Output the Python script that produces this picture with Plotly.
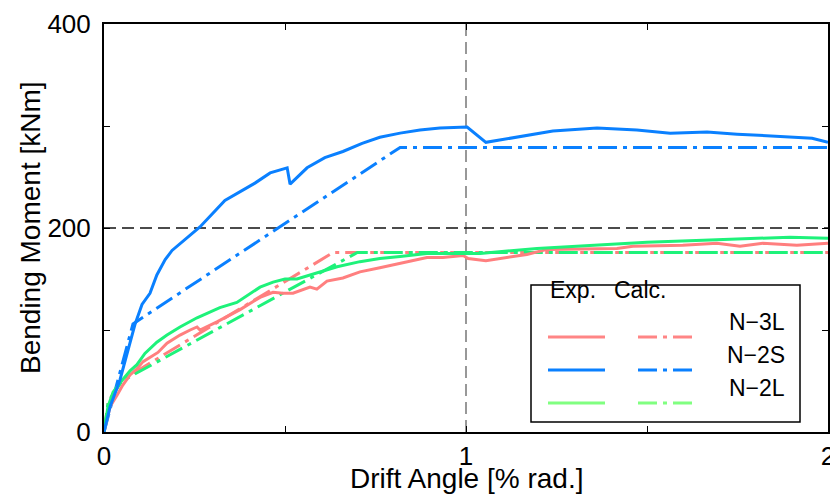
import plotly.graph_objects as go

# Experimental curves (drift angle [% rad.], moment [kNm])
n3l_exp_x = [0, 0.017, 0.036, 0.052, 0.072, 0.091, 0.108, 0.127, 0.149, 0.174, 0.210, 0.238, 0.257, 0.265,
             0.312, 0.376, 0.431, 0.467, 0.494, 0.522, 0.569, 0.588, 0.616, 0.660, 0.707, 0.762, 0.826,
             0.892, 0.936, 0.992, 1.006, 1.055, 1.168, 1.224, 1.417, 1.461, 1.599, 1.693, 1.757, 1.820,
             1.914, 2.0]
n3l_exp_y = [0, 25, 36, 46, 56, 62, 69, 73, 78, 87, 95, 100, 103, 100,
             108, 120, 132, 137, 136, 136, 142, 140, 148, 151, 157, 161, 166,
             171, 171, 173, 170, 168, 174, 179, 180, 182, 183, 185, 182, 185,
             183, 185]

n2s_exp_x = [0, 0.017, 0.044, 0.064, 0.077, 0.086, 0.105, 0.127, 0.146, 0.169, 0.188, 0.265, 0.334,
             0.384, 0.417, 0.459, 0.506, 0.514, 0.561, 0.610, 0.660, 0.713, 0.762, 0.818, 0.873,
             0.928, 1.003, 1.055, 1.141, 1.240, 1.362, 1.472, 1.564, 1.666, 1.749, 1.859, 1.956, 2.0]
n2s_exp_y = [0, 25, 51, 77, 93, 106, 125, 136, 154, 169, 178, 201, 227,
             237, 244, 254, 259, 243, 259, 269, 275, 283, 289, 293, 296,
             298, 299, 284, 289, 295, 298, 296, 293, 294, 292, 290, 288, 284]

n2l_exp_x = [0, 0.011, 0.025, 0.044, 0.072, 0.091, 0.113, 0.146, 0.174, 0.210, 0.257, 0.320, 0.367,
             0.431, 0.467, 0.500, 0.533, 0.588, 0.644, 0.707, 0.762, 0.818, 0.892, 0.992, 1.039,
             1.196, 1.500, 1.655, 1.895, 2.0]
n2l_exp_y = [0, 25, 39, 48, 60, 66, 77, 88, 95, 103, 112, 122, 127,
             142, 147, 150, 150, 156, 162, 167, 170, 172, 175, 175, 175,
             180, 186, 188, 191, 190]

# Calculated (trilinear) curves
n3l_calc_x = [0, 0.012, 0.05, 0.633, 2.0]
n3l_calc_y = [0, 30, 51, 176, 176]
n2s_calc_x = [0, 0.08, 0.818, 2.0]
n2s_calc_y = [0, 106, 279, 279]
n2l_calc_x = [0, 0.012, 0.05, 0.70, 2.0]
n2l_calc_y = [0, 30, 50, 176, 176]

labels = ['N\u22123L', 'N\u22122S', 'N\u22122L']
colors = ['#FF7F7F', '#0A80FF', '#1EF27A']
legend_colors = ['#FF8585', '#0A80FF', '#80FF80']

FONT = 'Liberation Sans, Arial, sans-serif'
DASHDOT = '19px,6px,4px,6px'

fig = go.Figure()
for xs, ys, c in [(n3l_calc_x, n3l_calc_y, colors[0]), (n2l_calc_x, n2l_calc_y, colors[2]),
                  (n2s_calc_x, n2s_calc_y, colors[1])]:
    fig.add_trace(go.Scatter(x=xs, y=ys, mode='lines', line=dict(color=c, width=3, dash=DASHDOT),
                             showlegend=False, hoverinfo='skip'))
for xs, ys, c in [(n3l_exp_x, n3l_exp_y, colors[0]), (n2l_exp_x, n2l_exp_y, colors[2]),
                  (n2s_exp_x, n2s_exp_y, colors[1])]:
    fig.add_trace(go.Scatter(x=xs, y=ys, mode='lines', line=dict(color=c, width=3),
                             showlegend=False, hoverinfo='skip'))

# reference lines
fig.add_shape(type='line', x0=1, x1=1, y0=0, y1=400, xref='x', yref='y', layer='below',
              line=dict(color='#777777', width=1.5, dash='12px,6px'))
fig.add_shape(type='line', x0=0, x1=2, y0=200, y1=200, xref='x', yref='y', layer='below',
              line=dict(color='#111111', width=1.3, dash='12px,6px'))

# hand-made two-column legend (positions given in window pixels)
def px2paper(px, py):
    return (px - 104) / 724, (432 - py) / 408

bx0, by0 = px2paper(531, 422)
bx1, by1 = px2paper(800, 285)
fig.add_shape(type='rect', xref='paper', yref='paper', x0=bx0, x1=bx1, y0=by0, y1=by1,
              line=dict(color='black', width=1.5), fillcolor='white', layer='above')
for text, cx in [('Exp.', 573), ('Calc.', 668)]:
    ax, ay = px2paper(cx, 305)
    fig.add_annotation(x=ax, y=ay, xref='paper', yref='paper', text=text, showarrow=False,
                       font=dict(family=FONT, size=23, color='black'))
for i, row_y in enumerate([337, 370, 403]):
    lx0, ly = px2paper(548, row_y)
    lx1, _ = px2paper(605, row_y)
    fig.add_shape(type='line', xref='paper', yref='paper', x0=lx0, x1=lx1, y0=ly, y1=ly,
                  line=dict(color=legend_colors[i], width=3), layer='above')
    dx0, _ = px2paper(638, row_y)
    dx1, _ = px2paper(692, row_y)
    fig.add_shape(type='line', xref='paper', yref='paper', x0=dx0, x1=dx1, y0=ly, y1=ly,
                  line=dict(color=legend_colors[i], width=3, dash=DASHDOT), layer='above')
    tx, _ = px2paper(787, row_y)
    fig.add_annotation(x=tx, y=ly, xref='paper', yref='paper', text=labels[i], showarrow=False,
                       xanchor='right', font=dict(family=FONT, size=23, color='black'))

# axis titles
fig.add_annotation(x=0.5, y=0, xref='paper', yref='paper', yanchor='middle', yshift=-46,
                   text='Drift Angle [% rad.]', showarrow=False, font=dict(family=FONT, size=28))
fig.add_annotation(x=0, y=0.5, xref='paper', yref='paper', xanchor='center', xshift=-74,
                   textangle=-90, text='Bending Moment [kNm]', showarrow=False,
                   font=dict(family=FONT, size=28))

# page body has an 8px margin, so the figure is shrunk by that amount
fig.update_layout(
    width=830,
    height=487,
    margin=dict(l=96, r=10, t=16, b=63),
    plot_bgcolor='white',
    paper_bgcolor='white',
    font=dict(family=FONT, size=26, color='black'),
    showlegend=False,
)
fig.update_xaxes(
    range=[0, 2], tickvals=[0, 0.5, 1, 1.5, 2], ticktext=['0', '', '1', '', '2'],
    ticks='inside', ticklen=6, tickwidth=1, tickcolor='black',
    showline=True, linewidth=2, linecolor='black', mirror='ticks',
    showgrid=False, zeroline=False, automargin=False,
)
fig.update_yaxes(
    range=[0, 400], tickvals=[0, 100, 200, 300, 400], ticktext=['0', '', '200', '', '400'],
    ticks='inside', ticklen=6, tickwidth=1, tickcolor='black', ticklabelstandoff=6,
    showline=True, linewidth=2, linecolor='black', mirror='ticks',
    showgrid=False, zeroline=False, automargin=False,
)

fig.write_html("out.html")
